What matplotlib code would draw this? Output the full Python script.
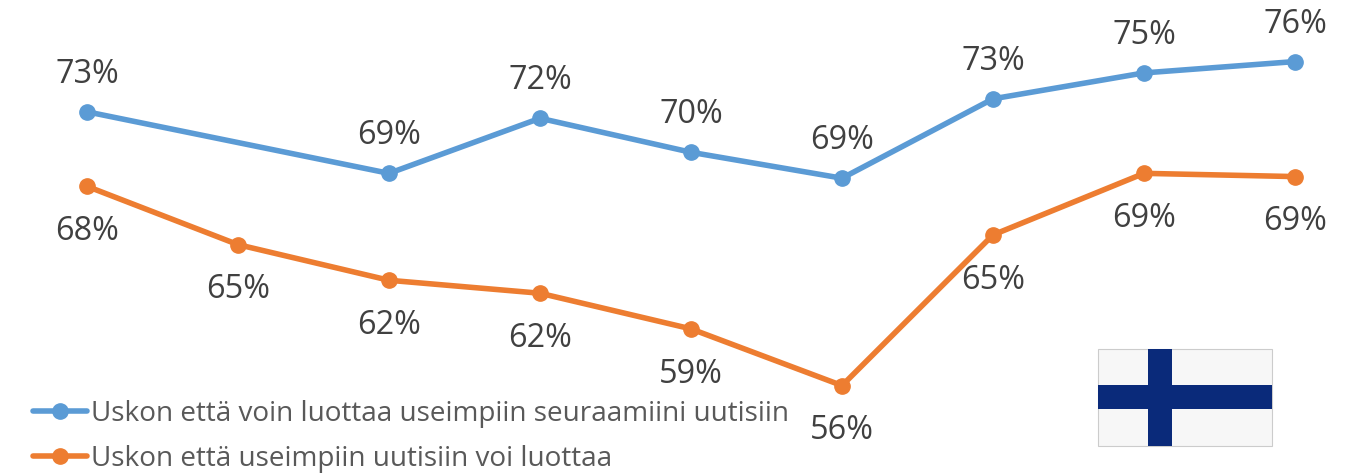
import numpy as np
import matplotlib
matplotlib.use("Agg")
from matplotlib import pyplot as plt
from matplotlib.patches import Rectangle

plt.rcParams['font.family'] = ['Open Sans', 'DejaVu Sans']

# blue series has no measurement at the second point
own_news = [72.9, np.nan, 69.1, 72.5, 70.4, 68.8, 73.7, 75.3, 76.0]
all_news = [68.3, 64.7, 62.5, 61.7, 59.5, 56.0, 65.3, 69.1, 68.9]
# printed labels, the source rounds a little differently from the plotted points
own_labels = ["73%", "", "69%", "72%", "70%", "69%", "73%", "75%", "76%"]
all_labels = ["68%", "65%", "62%", "62%", "59%", "56%", "65%", "69%", "69%"]
own_name = "Uskon että voin luottaa useimpiin seuraamiini uutisiin"
all_name = "Uskon että useimpiin uutisiin voi luottaa"

BLUE = "#5b9bd5"
ORANGE = "#ed7d31"
W, H = 1353, 475


def plot_series(ax, values, labels, color, name, offset):
    x = np.arange(len(values))
    y = np.array(values)
    ok = ~np.isnan(y)
    ax.plot(x[ok], y[ok], color=color, lw=4, marker="o", markersize=11,
            solid_capstyle="round", label=name)
    for xi, yi, txt in zip(x[ok], y[ok], np.array(labels)[ok]):
        ax.annotate(txt, (xi, yi), xytext=(0, offset), textcoords="offset points",
                    ha="center", va="center", fontsize=23.3, color="#404040")


def add_flag(fig):
    # pixel box of the flag, y counted from the top like in the reference
    def box(x0, y0, x1, y1):
        return (x0 / W, 1 - y1 / H), (x1 - x0) / W, (y1 - y0) / H

    xy, w, h = box(1098, 349, 1272, 446)
    fig.add_artist(Rectangle(xy, w, h, transform=fig.transFigure, fc="#f7f7f7", ec="#cccccc", lw=0.8))
    for b in [(1148, 349, 1172, 446), (1098, 385, 1272, 409)]:
        xy, w, h = box(*b)
        fig.add_artist(Rectangle(xy, w, h, transform=fig.transFigure, fc="#0a2a7a", ec="none"))


def main():
    fig = plt.figure(figsize=(W / 100, H / 100), dpi=100)
    ax = fig.add_axes([0, 0, 1, 1])
    ax.axis("off")

    plot_series(ax, own_news, own_labels, BLUE, own_name, 27)
    plot_series(ax, all_news, all_labels, ORANGE, all_name, -32.5)

    ax.set_xlim(-0.576, 8.384)
    ax.set_ylim(50.48, 79.8)

    ax.legend(loc="lower left", bbox_to_anchor=(32.5 / W, 0.004), borderaxespad=0, borderpad=0,
              frameon=False, fontsize=20.1, labelcolor="#595959", handlelength=1.95,
              handletextpad=0.13, labelspacing=0.62)

    add_flag(fig)
    fig.savefig("out.png", dpi=100)


if __name__ == "__main__":
    main()
